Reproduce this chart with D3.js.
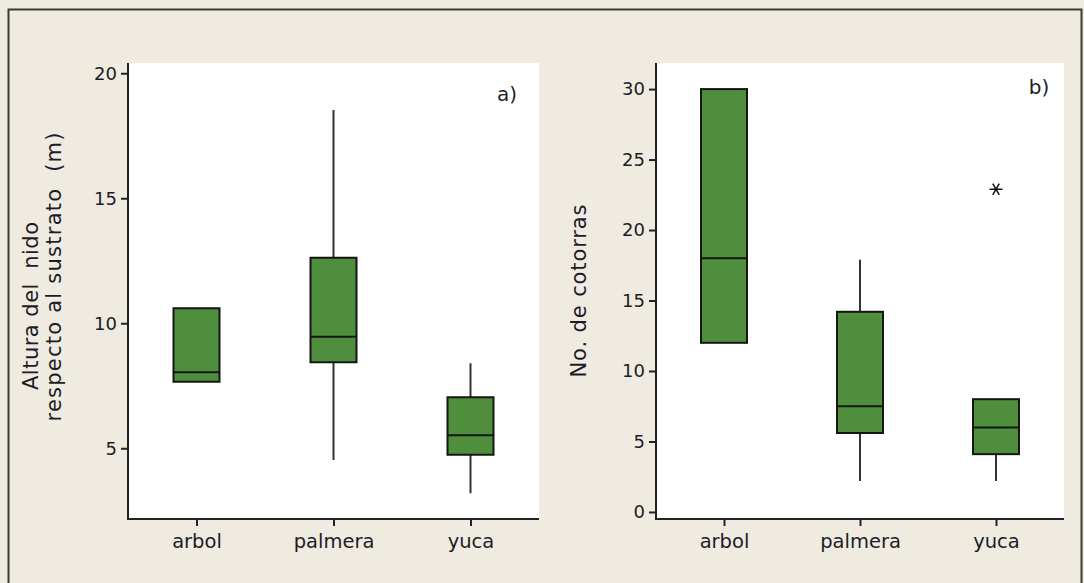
<!DOCTYPE html>
<html>
<head>
<meta charset="utf-8">
<script src="https://cdn.jsdelivr.net/npm/d3@7"></script>
<style>
  html, body { margin: 0; padding: 0; background: #EFEBE0; }
  svg { display: block; }
  text { font-family: "DejaVu Sans", Verdana, sans-serif; fill: #1c1c28; }
</style>
</head>
<body>
<svg id="chart" width="1084" height="583"></svg>
<script>
// ---------- data ----------
const categories = ["arbol", "palmera", "yuca"];

// Panel a) Altura del nido (m)
const aQ1      = [7.66, 8.44, 4.74];
const aMedian  = [8.04, 9.46, 5.52];
const aQ3      = [10.6, 12.62, 7.04];
const aWhiskLo = [null, 4.53, 3.2];
const aWhiskHi = [null, 18.53, 8.4];
const aOutliers = [];
const aTicks = [5, 10, 15, 20];

// Panel b) No. de cotorras
const bQ1      = [12, 5.6, 4.1];
const bMedian  = [18, 7.5, 6.0];
const bQ3      = [30, 14.2, 8.0];
const bWhiskLo = [null, 2.2, 2.2];
const bWhiskHi = [null, 17.9, null];
const bOutliers = [{cat: "yuca", value: 22.9}];
const bTicks = [0, 5, 10, 15, 20, 25, 30];

// ---------- drawing ----------
const svg = d3.select("#chart");
const FONT = "DejaVu Sans, Verdana, sans-serif";

// outer frame
svg.append("rect")
  .attr("x", 8.5).attr("y", 9.5)
  .attr("width", 1073).attr("height", 620)
  .attr("fill", "#EFEBE0")
  .attr("stroke", "#3a3a3a").attr("stroke-width", 2);

function panel(opts) {
  const {x0, x1, y0, y1, domain, ticks, q1, med, q3, wlo, whi, outliers, tag, tagX, tagY} = opts;
  const g = svg.append("g");
  const x = d3.scalePoint().domain(categories).range([x0, x1]).padding(0.5);
  const y = d3.scaleLinear().domain(domain).range([y1, y0]);

  g.append("rect").attr("x", x0).attr("y", y0)
    .attr("width", x1 - x0).attr("height", y1 - y0).attr("fill", "#ffffff");

  const yAxis = d3.axisLeft(y).tickValues(ticks).tickSize(7).tickPadding(4).tickFormat(d3.format("d"));
  const ya = g.append("g").attr("transform", `translate(${x0},0)`).call(yAxis);
  ya.select(".domain").remove();
  ya.append("line").attr("x1", 0).attr("x2", 0).attr("y1", y0).attr("y2", y1)
    .attr("stroke", "#222").attr("stroke-width", 2);
  ya.selectAll(".tick line").attr("stroke", "#222").attr("stroke-width", 2);
  ya.selectAll(".tick text").attr("font-size", 18).attr("fill", "#1c1c28")
    .attr("font-family", FONT);

  const xAxis = d3.axisBottom(x).tickSize(7).tickPadding(8);
  const xa = g.append("g").attr("transform", `translate(0,${y1})`).call(xAxis);
  xa.select(".domain").remove();
  xa.append("line").attr("x1", x0 - 1).attr("x2", x1).attr("y1", 0).attr("y2", 0)
    .attr("stroke", "#222").attr("stroke-width", 2);
  xa.selectAll(".tick line").attr("stroke", "#222").attr("stroke-width", 2);
  xa.selectAll(".tick text").attr("font-size", 19.5).attr("fill", "#1c1c28")
    .attr("font-family", FONT);

  const bw = 46;
  categories.forEach((c, i) => {
    const cx = x(c);
    if (whi[i] != null) {
      g.append("line").attr("x1", cx).attr("x2", cx)
        .attr("y1", y(q3[i])).attr("y2", y(whi[i]))
        .attr("stroke", "#333").attr("stroke-width", 2);
    }
    if (wlo[i] != null) {
      g.append("line").attr("x1", cx).attr("x2", cx)
        .attr("y1", y(q1[i])).attr("y2", y(wlo[i]))
        .attr("stroke", "#333").attr("stroke-width", 2);
    }
    g.append("rect").attr("x", cx - bw / 2).attr("y", y(q3[i]))
      .attr("width", bw).attr("height", y(q1[i]) - y(q3[i]))
      .attr("fill", "#4E8E3D").attr("stroke", "#151515").attr("stroke-width", 2);
    g.append("line").attr("x1", cx - bw / 2).attr("x2", cx + bw / 2)
      .attr("y1", y(med[i])).attr("y2", y(med[i]))
      .attr("stroke", "#151515").attr("stroke-width", 2);
  });

  outliers.forEach(o => {
    const cx = x(o.cat), cy = y(o.value), r = 6.5;
    const p = d3.path();
    p.moveTo(cx - r, cy); p.lineTo(cx + r, cy);
    p.moveTo(cx - r * 0.5, cy - r * 0.87); p.lineTo(cx + r * 0.5, cy + r * 0.87);
    p.moveTo(cx + r * 0.5, cy - r * 0.87); p.lineTo(cx - r * 0.5, cy + r * 0.87);
    g.append("path").attr("d", p.toString()).attr("stroke", "#111").attr("stroke-width", 1.5).attr("fill", "none");
  });

  g.append("text").attr("x", tagX).attr("y", tagY).attr("font-size", 20)
    .attr("text-anchor", "middle").text(tag);
  return g;
}

panel({x0: 128, x1: 539, y0: 63, y1: 519, domain: [2.17, 20.41], ticks: aTicks,
  q1: aQ1, med: aMedian, q3: aQ3, wlo: aWhiskLo, whi: aWhiskHi, outliers: aOutliers,
  tag: "a)", tagX: 507, tagY: 101});

panel({x0: 656, x1: 1064, y0: 63, y1: 519, domain: [-0.5, 31.85], ticks: bTicks,
  q1: bQ1, med: bMedian, q3: bQ3, wlo: bWhiskLo, whi: bWhiskHi, outliers: bOutliers,
  tag: "b)", tagX: 1039, tagY: 94});

// axis titles
svg.append("text").attr("transform", "translate(38,306) rotate(-90)")
  .attr("text-anchor", "middle").attr("font-size", 21).attr("xml:space", "preserve")
  .attr("textLength", 168).attr("lengthAdjust", "spacing")
  .text("Altura del  nido");
svg.append("text").attr("transform", "translate(61,277) rotate(-90)")
  .attr("text-anchor", "middle").attr("font-size", 21).attr("xml:space", "preserve")
  .attr("textLength", 289).attr("lengthAdjust", "spacing")
  .text("respecto al sustrato  (m)");
svg.append("text").attr("transform", "translate(586,291) rotate(-90)")
  .attr("text-anchor", "middle").attr("font-size", 21)
  .attr("textLength", 173).attr("lengthAdjust", "spacing")
  .text("No. de cotorras");
</script>
</body>
</html>
